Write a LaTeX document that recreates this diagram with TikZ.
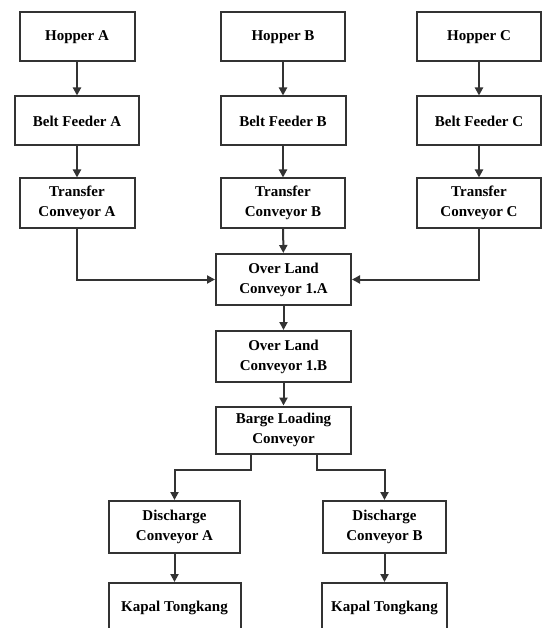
\documentclass[tikz,border=0pt]{standalone}
\usepackage{fontspec}
\setmainfont{Liberation Serif}
\usetikzlibrary{arrows.meta}

\begin{document}
\begin{tikzpicture}[x=1pt,y=-1pt,
  blok/.style={draw=black!80,line width=2pt,align=center,inner sep=0pt,
    minimum height=49pt,font=\fontsize{15}{20}\selectfont\bfseries},
  flow/.style={draw=black!80,line width=2pt,-{Triangle[length=8pt,width=8pt]}}]

\useasboundingbox (0,0) rectangle (542,628);

\node[blok,minimum width=115pt] (hopA) at (77,37) {Hopper A};
\node[blok,minimum width=124pt] (hopB) at (283,37) {Hopper B};
\node[blok,minimum width=124pt] (hopC) at (479,37) {Hopper C};

\node[blok,minimum width=124pt] (feedA) at (77,121) {Belt Feeder A};
\node[blok,minimum width=125pt] (feedB) at (283,121) {Belt Feeder B};
\node[blok,minimum width=124pt] (feedC) at (479,121) {Belt Feeder C};

\node[blok,minimum width=115pt] (trA) at (77,203) {Transfer\\Conveyor A};
\node[blok,minimum width=124pt] (trB) at (283,203) {Transfer\\Conveyor B};
\node[blok,minimum width=124pt] (trC) at (479,203) {Transfer\\Conveyor C};

\node[blok,minimum width=135pt,minimum height=51pt] (olA) at (283.5,279.5) {Over Land\\Conveyor 1.A};
\node[blok,minimum width=135pt,minimum height=51pt] (olB) at (283.5,356.5) {Over Land\\Conveyor 1.B};
\node[blok,minimum width=135pt,minimum height=47pt] (barge) at (283.5,430) {Barge Loading\\Conveyor};

\node[blok,minimum width=131pt,minimum height=52pt] (disA) at (174.5,527) {Discharge\\Conveyor A};
\node[blok,minimum width=123pt,minimum height=52pt] (disB) at (384.5,527) {Discharge\\Conveyor B};

\node[blok,minimum width=132pt,minimum height=50pt] (kapA) at (174.5,608) {Kapal Tongkang};
\node[blok,minimum width=125pt,minimum height=50pt] (kapB) at (384.5,608) {Kapal Tongkang};

\draw[flow] (hopA) -- (feedA);
\draw[flow] (hopB) -- (feedB);
\draw[flow] (hopC) -- (feedC);
\draw[flow] (feedA) -- (trA);
\draw[flow] (feedB) -- (trB);
\draw[flow] (feedC) -- (trC);

\draw[flow] (trA) |- (olA);
\draw[flow] (trB) -- (olA);
\draw[flow] (trC) |- (olA);
\draw[flow] (olA) -- (olB);
\draw[flow] (olB) -- (barge);

\draw[flow] ([xshift=-33pt]barge.south) -- ++(0,15) -| (disA);
\draw[flow] ([xshift=33pt]barge.south) -- ++(0,15) -| (disB);

\draw[flow] (disA) -- (kapA);
\draw[flow] (disB) -- (kapB);

\end{tikzpicture}
\end{document}
